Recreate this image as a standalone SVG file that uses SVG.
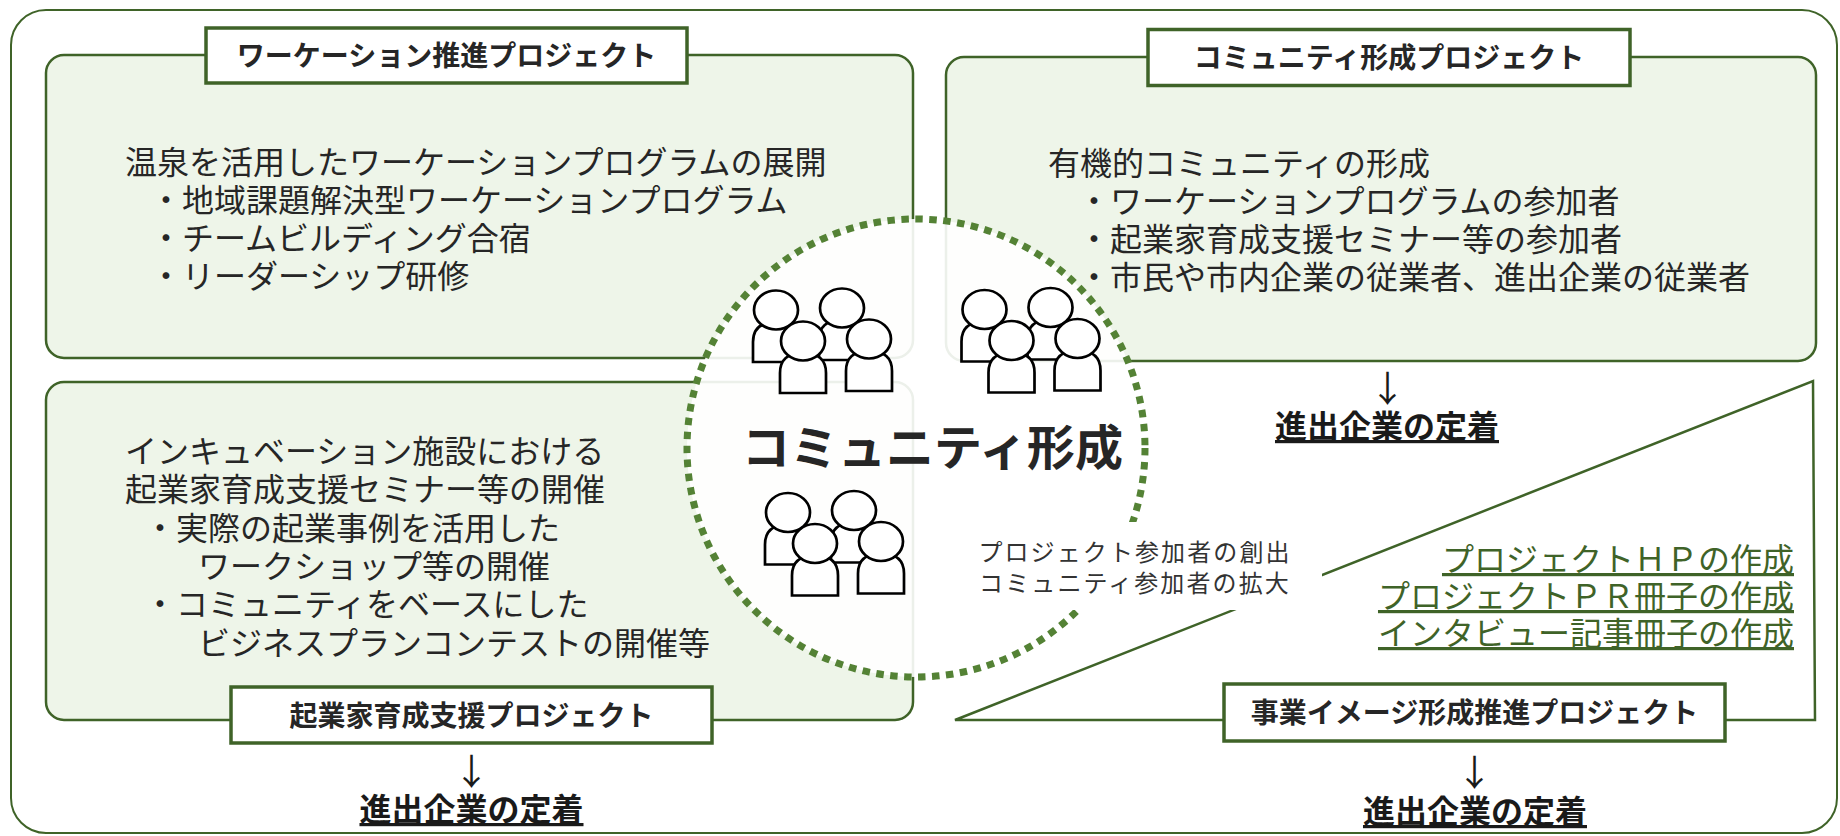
<svg xmlns="http://www.w3.org/2000/svg" xmlns:xlink="http://www.w3.org/1999/xlink" width="1840" height="836" viewBox="0 0 1840 836">
<style>
.frame{fill:none;stroke:#3f6328;stroke-width:2}
.box{fill:#eef5e9;stroke:#3f6328;stroke-width:2.5}
.title{fill:#fff;stroke:#3f6328;stroke-width:3.5}
.tt{font-family:"Noto Sans CJK JP","Noto Sans",sans-serif;font-size:28px;font-weight:700;fill:#262626;text-anchor:middle}
.body{font-family:"Noto Sans CJK JP","Noto Sans",sans-serif;font-size:32px;fill:#262626}
.res{font-family:"Noto Sans CJK JP","Noto Sans",sans-serif;font-size:32px;font-weight:700;fill:#1a1a1a;text-anchor:middle;text-decoration:underline}
.arrow{font-family:"Noto Sans CJK JP","Noto Sans",sans-serif;font-size:36px;fill:#1a1a1a;text-anchor:middle}
.link{font-family:"Noto Sans CJK JP","Noto Sans",sans-serif;font-size:32px;fill:#3f6328;text-anchor:end;text-decoration:underline}
.small{font-family:"Noto Sans CJK JP","Noto Sans",sans-serif;font-size:24px;fill:#333;text-anchor:middle;letter-spacing:2.1px}
.big{font-family:"Noto Sans CJK JP","Noto Sans",sans-serif;font-size:48px;font-weight:700;fill:#262626;text-anchor:middle}
.person path,.person ellipse{fill:#fff;stroke:#000;stroke-width:2.7}
.line{fill:none;stroke:#3f6328;stroke-width:2.5}
</style>
<defs>
<g id="person" class="person">
<path d="M-23 52V32C-23 18 -14 12 0 12C14 12 23 18 23 32V52Z"/>
<ellipse cx="0" cy="0" rx="22" ry="19.5"/>
</g>
<g id="crowd">
<use xlink:href="#person" href="#person" x="0" y="0"/>
<use xlink:href="#person" href="#person" x="66" y="-2"/>
<use xlink:href="#person" href="#person" x="27" y="31"/>
<use xlink:href="#person" href="#person" x="93" y="29"/>
</g>
</defs>

<rect class="frame" x="11" y="10" width="1826" height="823" rx="35"/>

<g id="workation">
<rect class="box" x="46" y="55" width="867" height="303" rx="18"/>
<rect class="title" x="206" y="28" width="481" height="55"/>
<text class="tt" x="446.5" y="66">ワーケーション推進プロジェクト</text>
<text class="body" x="125" y="174">温泉を活用したワーケーションプログラムの展開</text>
<text class="body" x="150" y="212">・地域課題解決型ワーケーションプログラム</text>
<text class="body" x="150" y="250">・チームビルディング合宿</text>
<text class="body" x="150" y="288">・リーダーシップ研修</text>
</g>

<g id="community-project">
<rect class="box" x="946" y="57" width="870" height="304" rx="18"/>
<rect class="title" x="1148" y="29.5" width="482" height="56"/>
<text class="tt" x="1389" y="68">コミュニティ形成プロジェクト</text>
<text class="body" x="1048" y="175">有機的コミュニティの形成</text>
<text class="body" x="1078" y="213">・ワーケーションプログラムの参加者</text>
<text class="body" x="1078" y="251">・起業家育成支援セミナー等の参加者</text>
<text class="body" x="1078" y="289">・市民や市内企業の従業者、進出企業の従業者</text>
</g>

<g id="entrepreneur">
<rect class="box" x="46" y="382" width="867" height="338" rx="18"/>
<text class="body" x="125" y="463">インキュベーション施設における</text>
<text class="body" x="125" y="501">起業家育成支援セミナー等の開催</text>
<text class="body" x="144" y="540">・実際の起業事例を活用した</text>
<text class="body" x="198" y="578">ワークショップ等の開催</text>
<text class="body" x="144" y="616">・コミュニティをベースにした</text>
<text class="body" x="198" y="655">ビジネスプランコンテストの開催等</text>
<rect class="title" x="231" y="687" width="481" height="56"/>
<text class="tt" x="471.5" y="725.5">起業家育成支援プロジェクト</text>
</g>

<g id="business-image">
<polygon class="line" points="955,720 1813,381 1815,720"/>
<text class="link" x="1794" y="571">プロジェクトＨＰの作成</text>
<text class="link" x="1794" y="608">プロジェクトＰＲ冊子の作成</text>
<text class="link" x="1794" y="645">インタビュー記事冊子の作成</text>
<rect class="title" x="1224" y="684" width="501" height="57"/>
<text class="tt" x="1474.5" y="723">事業イメージ形成推進プロジェクト</text>
</g>

<g id="community-core">
<circle cx="916" cy="448" r="229" fill="#fff" fill-opacity="0.9" stroke="#548235" stroke-width="7" stroke-dasharray="7.5 6.5"/>
<use xlink:href="#crowd" href="#crowd" x="776" y="310"/>
<use xlink:href="#crowd" href="#crowd" x="984.5" y="309.5"/>
<use xlink:href="#crowd" href="#crowd" x="788" y="512.5"/>
<text class="big" x="932.5" y="465">コミュニティ形成</text>
</g>

<g id="participants-note">
<rect x="946" y="522" width="376" height="88" fill="#fff"/>
<text class="small" x="1135" y="561">プロジェクト参加者の創出</text>
<text class="small" x="1135" y="592">コミュニティ参加者の拡大</text>
</g>

<g id="connectors">
<text class="arrow" x="1387.5" y="402">↓</text>
<text class="arrow" x="471.5" y="785">↓</text>
<text class="arrow" x="1474.5" y="786">↓</text>
</g>

<g id="outcomes">
<text class="res" x="1387" y="438">進出企業の定着</text>
<text class="res" x="471.5" y="821">進出企業の定着</text>
<text class="res" x="1475" y="823">進出企業の定着</text>
</g>
</svg>
